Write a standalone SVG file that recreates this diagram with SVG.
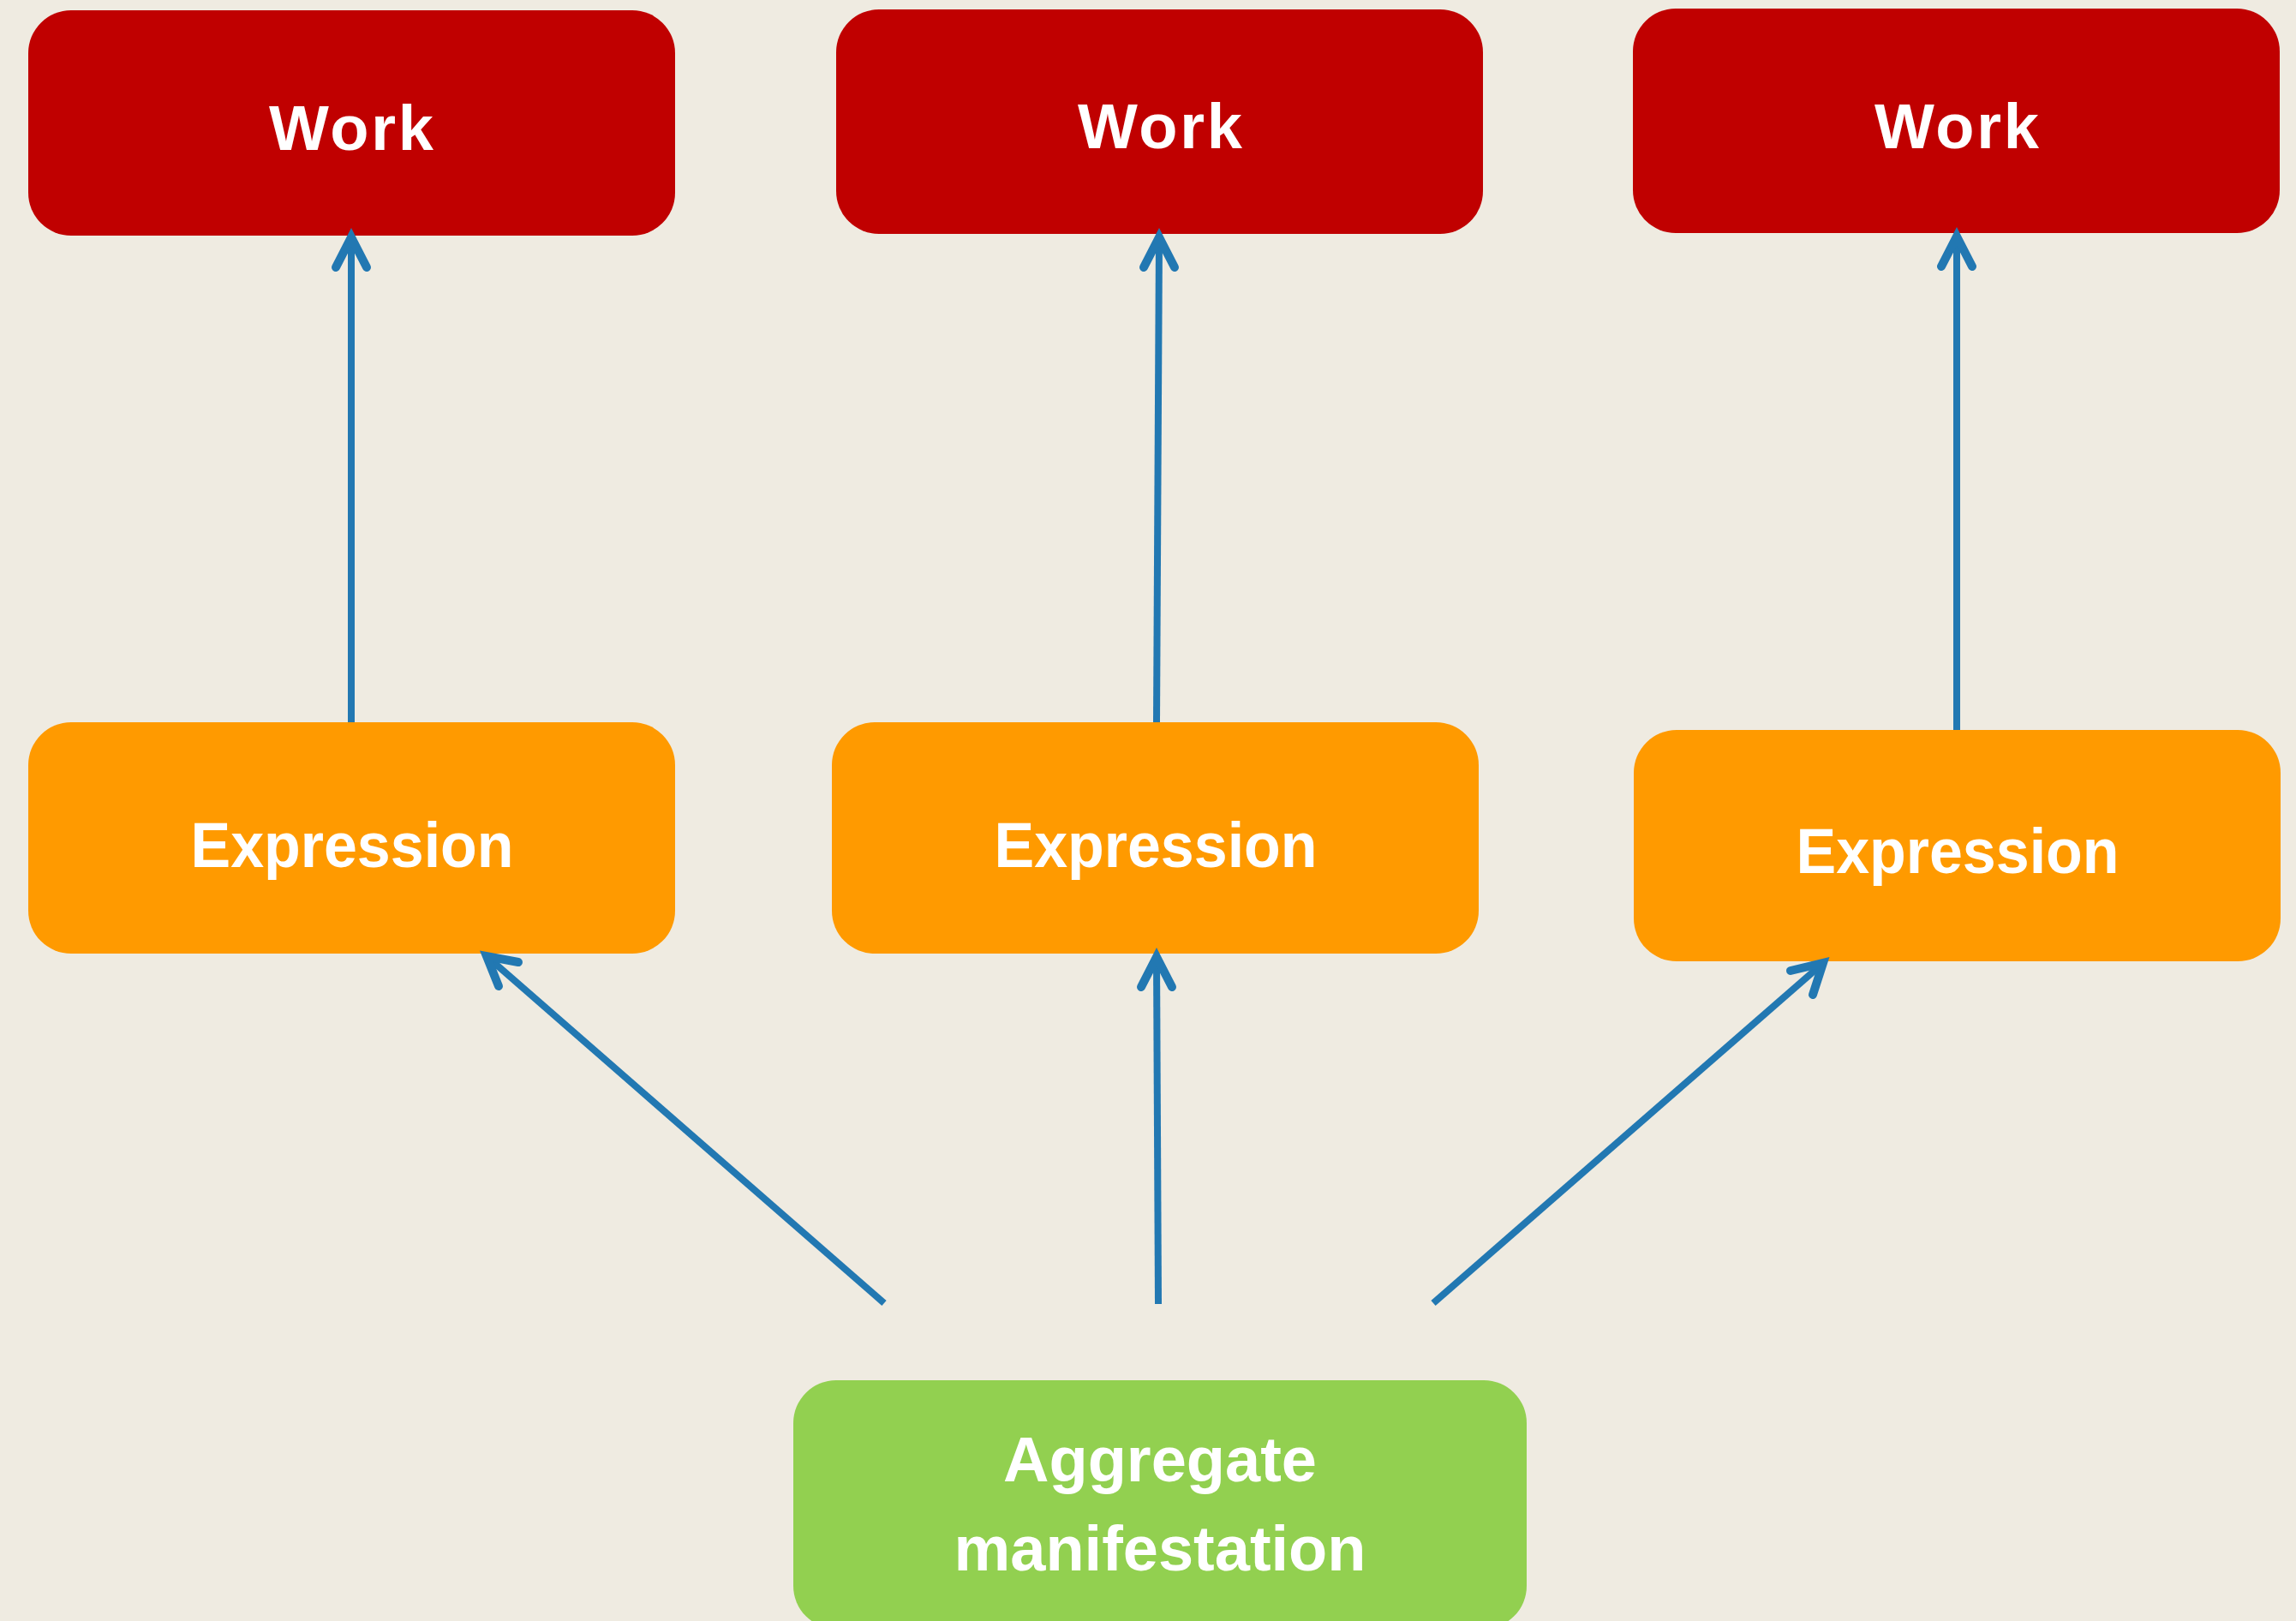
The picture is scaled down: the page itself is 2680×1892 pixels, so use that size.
<svg xmlns="http://www.w3.org/2000/svg" width="2680" height="1892" viewBox="0 0 2680 1892">
<style>
.work{fill:#C00000}
.expr{fill:#FF9A00}
.agg{fill:#92D050}
.lbl{font-family:"Liberation Sans","DejaVu Sans",sans-serif;font-weight:bold;font-size:74px;fill:#FFFFFF;text-anchor:middle}
.ln{stroke:#2278B2;stroke-width:8;fill:none}
.hd{stroke:#2278B2;stroke-width:10;fill:none;stroke-linecap:round;stroke-linejoin:miter}
</style>
<rect x="0" y="0" width="2680" height="1892" fill="#EFEBE1"/>
<g id="work1"><rect class="work" x="33" y="12" width="755" height="263" rx="50"/><text class="lbl" x="410" y="175" textLength="192" lengthAdjust="spacing">Work</text></g>
<g id="work2"><rect class="work" x="976" y="11" width="755" height="262" rx="50"/><text class="lbl" x="1354" y="173" textLength="192" lengthAdjust="spacing">Work</text></g>
<g id="work3"><rect class="work" x="1906" y="10" width="755" height="262" rx="50"/><text class="lbl" x="2284" y="173" textLength="192" lengthAdjust="spacing">Work</text></g>
<g id="expr1"><rect class="expr" x="33" y="843" width="755" height="270" rx="50"/><text class="lbl" x="411" y="1012" textLength="377" lengthAdjust="spacingAndGlyphs">Expression</text></g>
<g id="expr2"><rect class="expr" x="971" y="843" width="755" height="270" rx="50"/><text class="lbl" x="1349" y="1012" textLength="377" lengthAdjust="spacingAndGlyphs">Expression</text></g>
<g id="expr3"><rect class="expr" x="1907" y="852" width="755" height="270" rx="50"/><text class="lbl" x="2285" y="1019" textLength="377" lengthAdjust="spacingAndGlyphs">Expression</text></g>
<g id="agg"><rect class="agg" x="926" y="1611" width="856" height="290" rx="50"/><text class="lbl" x="1354" y="1729">Aggregate</text><text class="lbl" x="1354" y="1833">manifestation</text></g>
<g id="connectors">
<line class="ln" x1="410" y1="843" x2="410" y2="278"/>
<polyline class="hd" points="392,312 410,277 428,312"/>
<line class="ln" x1="1350" y1="843" x2="1353" y2="278"/>
<polyline class="hd" points="1335,312 1353,277 1371,312"/>
<line class="ln" x1="2284" y1="852" x2="2284" y2="277"/>
<polyline class="hd" points="2266,311 2284,276 2302,311"/>
<line class="ln" x1="1032" y1="1521" x2="568" y2="1116"/>
<polyline class="hd" points="582,1151 568,1116 605,1123"/>
<line class="ln" x1="1352" y1="1522" x2="1350" y2="1118"/>
<polyline class="hd" points="1332,1152 1350,1117 1368,1152"/>
<line class="ln" x1="1673" y1="1521" x2="2127" y2="1125"/>
<polyline class="hd" points="2090,1133 2128,1124 2116,1161"/>
</g>
</svg>
